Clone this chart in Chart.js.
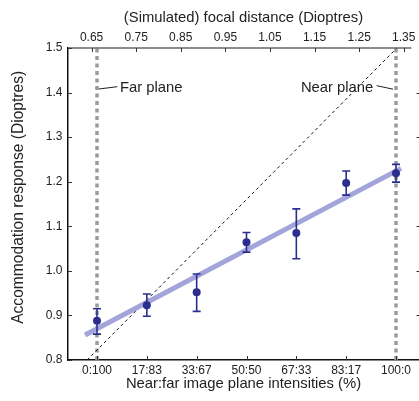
<!DOCTYPE html>
<html><head><meta charset="utf-8">
<script src="https://cdn.jsdelivr.net/npm/chart.js@4/dist/chart.umd.min.js"></script>
<style>html,body{margin:0;padding:0;background:#fff;overflow:hidden}#wrap{width:419px;height:401px}</style>
</head><body><div id="wrap"><canvas id="c" width="419" height="401"></canvas></div>
<script>
// ---- data ----
const categories = ['0:100', '17:83', '33:67', '50:50', '67:33', '83:17', '100:0'];
const nearPercent = [0, 16.667, 33.333, 50, 66.667, 83.333, 100];
const response = [0.888, 0.923, 0.952, 1.064, 1.085, 1.197, 1.219];
const errLow = [0.858, 0.898, 0.909, 1.042, 1.027, 1.170, 1.199];
const errHigh = [0.915, 0.948, 0.993, 1.086, 1.139, 1.224, 1.239];
const focalTicks = [0.65, 0.75, 0.85, 0.95, 1.05, 1.15, 1.25, 1.35];
const responseTicks = [0.8, 0.9, 1.0, 1.1, 1.2, 1.3, 1.4, 1.5];
const fitX = [-4, 101.7];
const fitY = [0.856, 1.230];
const diagX = [-3.3, 100.3];
const diagY = [0.8, 1.5];
const planeX = [0, 100];
const planeLabels = ['Far plane', 'Near plane'];
const yTitle = 'Accommodation response (Dioptres)';

const FONT = "'Liberation Sans', Arial, Helvetica, sans-serif";
const TXT = '#222';
const NAVY = '#2b2e8e';

const pts = (xs, ys) => xs.map((x, i) => ({x, y: ys[i]}));

const decor = {
  id: 'decor',
  beforeDatasetDraw(chart, args) {
    if (args.index !== 0) return;
    const {ctx, scales: {x, y}} = chart;
    ctx.save();
    ctx.strokeStyle = NAVY; ctx.lineWidth = 1.6;
    nearPercent.forEach((p, i) => {
      const px = x.getPixelForValue(p);
      const y1 = y.getPixelForValue(errLow[i]), y2 = y.getPixelForValue(errHigh[i]);
      ctx.beginPath();
      ctx.moveTo(px, y1); ctx.lineTo(px, y2);
      ctx.moveTo(px - 4, y1); ctx.lineTo(px + 4, y1);
      ctx.moveTo(px - 4, y2); ctx.lineTo(px + 4, y2);
      ctx.stroke();
    });
    ctx.restore();
  },
  afterDraw(chart) {
    const {ctx, chartArea: a, scales: {x, x2, y}} = chart;
    ctx.save();
    // top axis line
    ctx.strokeStyle = '#666'; ctx.lineWidth = 1.5;
    ctx.beginPath(); ctx.moveTo(a.left, a.top); ctx.lineTo(x2.getPixelForValue(1.367), a.top); ctx.stroke();
    // inward ticks
    ctx.strokeStyle = '#333'; ctx.lineWidth = 1;
    ctx.beginPath();
    responseTicks.forEach(v => { const py = Math.round(y.getPixelForValue(v)) + 0.5; ctx.moveTo(a.left, py); ctx.lineTo(a.left + 4, py); });
    focalTicks.forEach(v => { const px = Math.round(x2.getPixelForValue(v)) + 0.5; ctx.moveTo(px, a.top); ctx.lineTo(px, a.top + 4); });
    nearPercent.forEach(v => { const px = Math.round(x.getPixelForValue(v)) + 0.5; ctx.moveTo(px, a.bottom); ctx.lineTo(px, a.bottom - 4); });
    [0.9, 1.0, 1.1, 1.3, 1.4].forEach(v => { const py = Math.round(y.getPixelForValue(v)) + 0.5; ctx.moveTo(a.right - 2.5, py); ctx.lineTo(a.right, py); });
    ctx.stroke();
    // y axis title
    ctx.fillStyle = TXT; ctx.font = `15.6px ${FONT}`;
    ctx.save();
    ctx.translate(18.3, y.getPixelForValue(1.165));
    ctx.rotate(-Math.PI / 2);
    ctx.textAlign = 'center'; ctx.textBaseline = 'middle';
    ctx.fillText(yTitle, 0, 0);
    ctx.restore();
    // annotations
    ctx.font = `14.8px ${FONT}`; ctx.textBaseline = 'alphabetic';
    ctx.textAlign = 'left';
    ctx.fillText(planeLabels[0], x.getPixelForValue(7.7), y.getPixelForValue(1.402));
    ctx.textAlign = 'right';
    ctx.fillText(planeLabels[1], x.getPixelForValue(92.4), y.getPixelForValue(1.402));
    ctx.strokeStyle = '#222'; ctx.lineWidth = 1;
    ctx.beginPath();
    ctx.moveTo(x.getPixelForValue(0.6), y.getPixelForValue(1.408));
    ctx.lineTo(x.getPixelForValue(6.8), y.getPixelForValue(1.4132));
    ctx.moveTo(x.getPixelForValue(93.5), y.getPixelForValue(1.4155));
    ctx.lineTo(x.getPixelForValue(99.0), y.getPixelForValue(1.4076));
    ctx.stroke();
    ctx.restore();
  }
};

new Chart(document.getElementById('c'), {
  data: {
    datasets: [
      { type: 'scatter', data: pts(nearPercent, response), backgroundColor: NAVY, borderColor: NAVY, pointRadius: 4, pointBorderWidth: 0, xAxisID: 'x', yAxisID: 'y' },
      { type: 'line', data: pts(fitX, fitY), borderColor: '#a3a4d9', borderWidth: 5, pointRadius: 0, fill: false, borderCapStyle: 'butt', xAxisID: 'x', yAxisID: 'y' },
      { type: 'line', data: pts(diagX, diagY), borderColor: '#111', borderWidth: 1, borderDash: [3, 3], pointRadius: 0, fill: false, xAxisID: 'x', yAxisID: 'y' },
      { type: 'line', data: pts([planeX[0], planeX[0]], [0.8, 1.5]), borderColor: '#9a9a9a', borderWidth: 3.5, borderDash: [4, 3.5], pointRadius: 0, fill: false, xAxisID: 'x', yAxisID: 'y' },
      { type: 'line', data: pts([planeX[1], planeX[1]], [0.8, 1.5]), borderColor: '#9a9a9a', borderWidth: 3.5, borderDash: [4, 3.5], pointRadius: 0, fill: false, xAxisID: 'x', yAxisID: 'y' }
    ]
  },
  options: {
    responsive: false, animation: false, devicePixelRatio: 1,
    layout: { padding: 0, autoPadding: false },
    plugins: { legend: { display: false }, tooltip: { enabled: false } },
    scales: {
      x: {
        type: 'linear', position: 'bottom', min: -9.70, max: 107.69, bounds: 'data',
        grid: { display: false, drawTicks: false },
        border: { display: true, color: '#111', width: 1.5 },
        afterBuildTicks: s => { s.ticks = nearPercent.map(v => ({value: v})); },
        ticks: { autoSkip: false, maxRotation: 0, padding: 3, color: TXT, font: { family: FONT, size: 12 }, callback: (v, i) => categories[i] },
        title: { display: true, text: 'Near:far image plane intensities (%)', color: TXT, font: { family: FONT, size: 14.8 }, padding: { top: 0, bottom: 7.8 } },
        afterFit: s => { s.height = 41; s.paddingLeft = 0; s.paddingRight = 0; }
      },
      x2: {
        type: 'linear', position: 'top', min: 0.5971, max: 1.3841, bounds: 'data',
        grid: { display: false, drawTicks: false },
        border: { display: false },
        afterBuildTicks: s => { s.ticks = focalTicks.map(v => ({value: v})); },
        ticks: { autoSkip: false, maxRotation: 0, padding: 3.5, color: TXT, font: { family: FONT, size: 12 }, callback: v => v.toFixed(2) },
        title: { display: true, text: '(Simulated) focal distance (Dioptres)', color: TXT, font: { family: FONT, size: 14.8 }, padding: { top: 8.6, bottom: 0 } },
        afterFit: s => { s.height = 48; s.paddingLeft = 0; s.paddingRight = 0; }
      },
      y: {
        type: 'linear', position: 'left', min: 0.8, max: 1.5, bounds: 'data',
        grid: { display: false, drawTicks: false },
        border: { display: true, color: '#111', width: 1.5 },
        afterBuildTicks: s => { s.ticks = responseTicks.map(v => ({value: v})); },
        ticks: { autoSkip: false, padding: 5.5, color: TXT, font: { family: FONT, size: 12 }, callback: v => v.toFixed(1) },
        title: { display: false },
        afterFit: s => { s.width = 68; s.paddingTop = 0; s.paddingBottom = 0; }
      }
    }
  },
  plugins: [decor]
});
</script>
</body></html>
